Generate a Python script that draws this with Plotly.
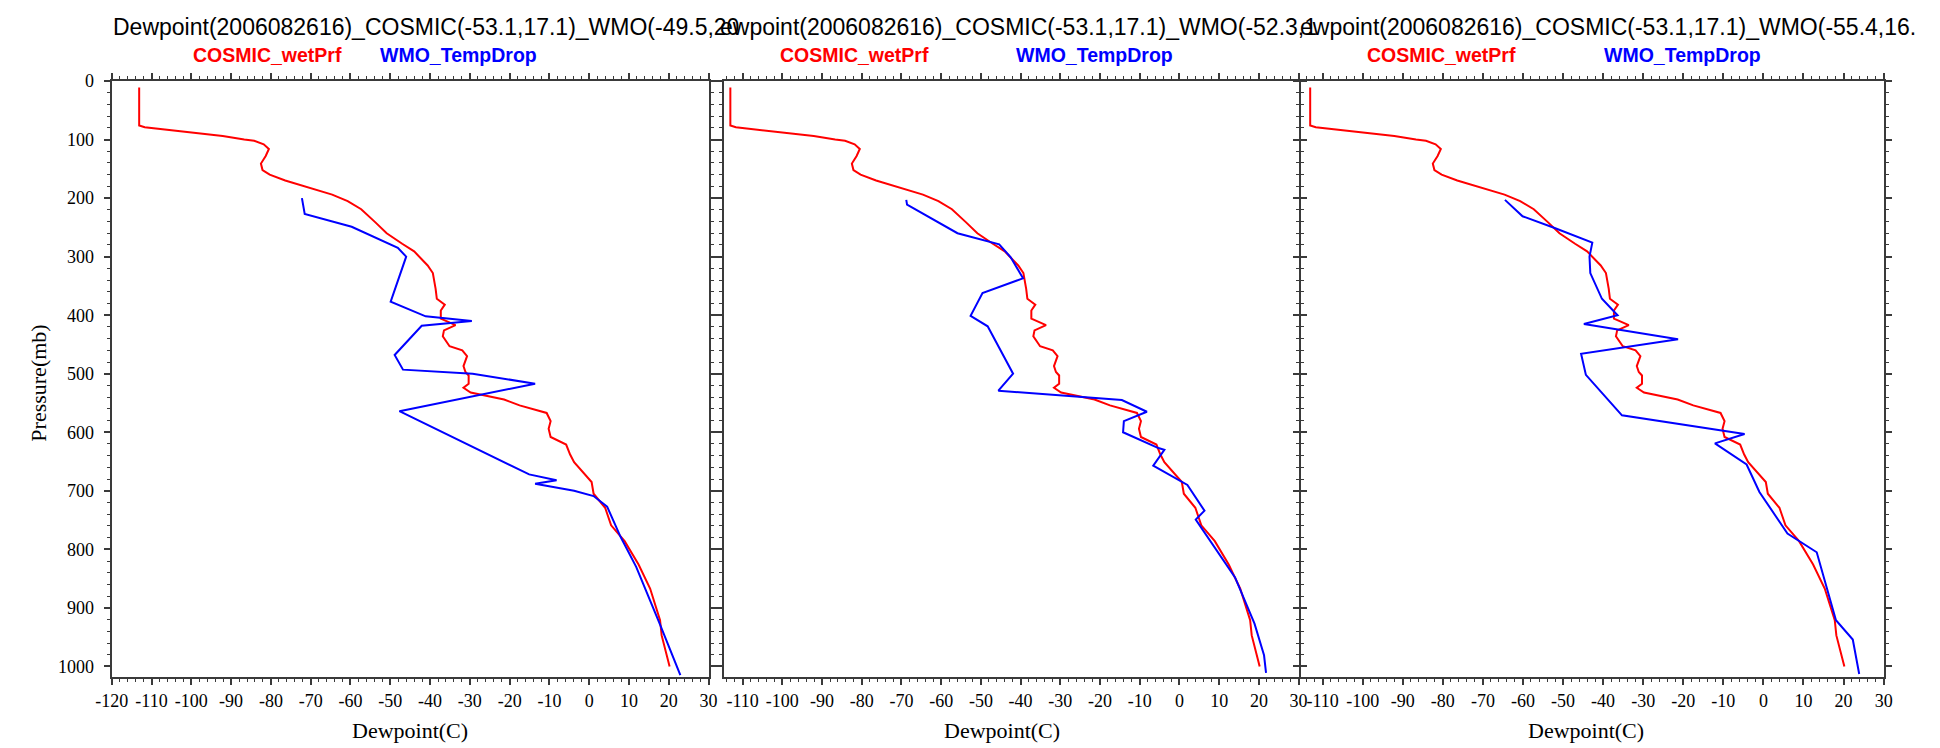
import plotly.graph_objects as go

# ---------------- data ----------------
cosmic_p = [11, 76, 79, 87, 94, 100, 102, 108, 116, 128, 141, 152, 160, 170, 182, 194, 205, 219, 241, 260,
            278, 291, 315, 328, 355, 372, 382, 392, 406, 417, 426, 436, 453, 460, 470, 487, 497, 503, 517, 524,
            532, 537, 544, 554, 563, 567, 581, 594, 608, 621, 638, 651, 685, 705, 729, 759, 786, 826, 867, 921,
            947, 1000]
cosmic_t = [-113.1, -113.1, -111.7, -101.9, -92.1, -86.7, -84.2, -81.8, -80.5, -81.3, -82.5, -82.1, -80.3, -76.4,
            -70.5, -64.6, -60.7, -57.3, -53.8, -50.9, -47.0, -44.0, -40.6, -39.3, -38.6, -38.3, -36.3, -37.3,
            -37.3, -33.6, -36.5, -36.8, -35.1, -31.9, -30.7, -31.6, -31.1, -30.3, -30.3, -31.6, -29.8, -26.3,
            -21.4, -17.5, -12.6, -10.7, -9.7, -10.2, -9.7, -5.8, -4.8, -3.8, 0.6, 1.1, 4.0, 5.5, 8.9, 12.4,
            15.3, 17.8, 18.2, 20.2]

wmo1_p = [200, 227, 249, 285, 300, 377, 402, 410, 418, 468, 493, 500, 517, 564, 672, 682, 688, 700, 709, 727,
          779, 830, 927, 1015]
wmo1_t = [-72.2, -71.5, -59.7, -48.1, -46.0, -49.9, -41.1, -29.5, -42.1, -48.9, -46.8, -29.3, -13.6, -47.7,
          -15.1, -8.2, -13.6, -3.8, 1.1, 4.5, 7.9, 11.8, 17.7, 22.9]

wmo2_p = [203, 211, 260, 279, 301, 337, 362, 401, 419, 500, 529, 545, 565, 581, 600, 627, 630, 657, 690, 734,
          749, 848, 927, 981, 1011]
wmo2_t = [-68.8, -68.6, -55.9, -45.4, -42.5, -39.4, -49.6, -52.6, -48.3, -41.9, -45.6, -14.5, -8.2, -14.0,
          -14.2, -5.3, -3.8, -6.6, 2.0, 6.3, 4.1, 14.0, 18.9, 21.3, 21.8]

wmo3_p = [203, 231, 251, 276, 300, 328, 372, 400, 415, 441, 466, 502, 571, 603, 619, 655, 702, 773, 805, 921,
          954, 1013]
wmo3_t = [-64.5, -60.1, -52.1, -42.7, -43.4, -43.2, -40.3, -36.4, -44.8, -21.3, -45.5, -44.3, -35.3, -4.7,
          -12.1, -4.2, -1.0, 6.0, 13.3, 18.1, 22.3, 23.9]

panel_titles = [
    "Dewpoint(2006082616)_COSMIC(-53.1,17.1)_WMO(-49.5,20",
    "ewpoint(2006082616)_COSMIC(-53.1,17.1)_WMO(-52.3,1",
    "ewpoint(2006082616)_COSMIC(-53.1,17.1)_WMO(-55.4,16.",
]
series_names = ["COSMIC_wetPrf", "WMO_TempDrop"]
x_title = "Dewpoint(C)"
y_title = "Pressure(mb)"

x_tick_vals = list(range(-120, 31, 10))
x_tick_text = [str(v) for v in x_tick_vals]
y_tick_vals = list(range(0, 1001, 100))
y_tick_text = [str(v) for v in y_tick_vals]

# ---------------- layout geometry (pixels) ----------------
W, H = 1940, 748
plot_top, plot_bottom = 72, 676
panels_px = [(96, 701, -120.0), (717, 1299, -114.6), (1301, 1892, -115.5)]
y_range = [1018, 0]

def fx(px):
    return px / W

def fy(py):
    return 1 - py / H

AX_COLOR = "#3a3a3a"
TICK_FONT = dict(family="Liberation Serif", size=18, color="black")

fig = go.Figure()
wmo = [(wmo1_p, wmo1_t), (wmo2_p, wmo2_t), (wmo3_p, wmo3_t)]
for i, (wp, wt) in enumerate(wmo):
    sfx = "" if i == 0 else str(i + 1)
    fig.add_trace(go.Scatter(x=cosmic_t, y=cosmic_p, mode="lines", name=series_names[0],
                             line=dict(color="#ff0000", width=2), xaxis="x" + sfx, yaxis="y" + sfx,
                             showlegend=False))
    fig.add_trace(go.Scatter(x=wt, y=wp, mode="lines", name=series_names[1],
                             line=dict(color="#0000ff", width=2), xaxis="x" + sfx, yaxis="y" + sfx,
                             showlegend=False))

layout = dict(width=W, height=H, autosize=False, margin=dict(l=0, r=0, t=0, b=0),
              paper_bgcolor="white", plot_bgcolor="white", showlegend=False)

for i, (x0, x1, xmin) in enumerate(panels_px):
    sfx = "" if i == 0 else str(i + 1)
    layout["xaxis" + sfx] = dict(
        domain=[fx(x0), fx(x1)], range=[xmin, 30], anchor="y" + sfx,
        showline=True, linecolor=AX_COLOR, linewidth=2, mirror="ticks",
        ticks="outside", ticklen=6, tickwidth=1.5, tickcolor=AX_COLOR,
        tickmode="array", tickvals=x_tick_vals, ticktext=x_tick_text, tickfont=TICK_FONT,
        minor=dict(ticks="outside", ticklen=3, tickwidth=1, tickcolor=AX_COLOR,
                   tickmode="linear", tick0=0, dtick=2),
        showgrid=False, zeroline=False, fixedrange=True,
    )
    layout["yaxis" + sfx] = dict(
        domain=[fy(plot_bottom), fy(plot_top)], range=y_range, anchor="x" + sfx,
        showline=True, linecolor=AX_COLOR, linewidth=2, mirror="ticks",
        ticks="outside", ticklen=6, tickwidth=1.5, tickcolor=AX_COLOR,
        tickmode="array", tickvals=y_tick_vals, ticktext=y_tick_text, tickfont=TICK_FONT,
        showticklabels=(i == 0), ticklabelstandoff=6,
        minor=dict(ticks="outside", ticklen=3, tickwidth=1, tickcolor=AX_COLOR,
                   tickmode="linear", tick0=0, dtick=20),
        showgrid=False, zeroline=False, fixedrange=True,
    )

# partially visible tick labels of a next (cropped) panel at the right edge
layout["yaxis4"] = dict(
    overlaying="y", anchor="free", position=1.0, side="left", range=y_range,
    tickmode="array", tickvals=y_tick_vals, ticktext=y_tick_text, tickfont=TICK_FONT,
    showline=False, ticks="", showgrid=False, zeroline=False, ticklabelstandoff=-8,
)

annotations = []
title_x = [95, 711, 1298]
legend_x = [(254, 447), (849, 1092), (1444, 1688)]
xlabel_x = [398, 998, 1590]
for i in range(3):
    annotations.append(dict(text=panel_titles[i], x=fx(title_x[i]), y=fy(17), xref="paper", yref="paper",
                            xanchor="left", yanchor="middle", showarrow=False,
                            font=dict(family="Liberation Sans", size=23, color="black")))
    annotations.append(dict(text="<b>" + series_names[0] + "</b>", x=fx(legend_x[i][0]), y=fy(46),
                            xref="paper", yref="paper", xanchor="center", yanchor="middle", showarrow=False,
                            font=dict(family="Liberation Sans", size=19.5, color="#ff0000")))
    annotations.append(dict(text="<b>" + series_names[1] + "</b>", x=fx(legend_x[i][1]), y=fy(46),
                            xref="paper", yref="paper", xanchor="center", yanchor="middle", showarrow=False,
                            font=dict(family="Liberation Sans", size=19.5, color="#0000ff")))
    annotations.append(dict(text=x_title, x=fx(xlabel_x[i]), y=fy(730), xref="paper", yref="paper",
                            xanchor="center", yanchor="middle", showarrow=False,
                            font=dict(family="Liberation Serif", size=22, color="black")))
annotations.append(dict(text=y_title, x=fx(22), y=fy(378), xref="paper", yref="paper", textangle=-90,
                        xanchor="center", yanchor="middle", showarrow=False,
                        font=dict(family="Liberation Serif", size=22, color="black")))
layout["annotations"] = annotations

layout["shapes"] = [dict(type="rect", xref="paper", yref="paper", x0=fx(1920), x1=1.0, y0=0, y1=fy(60),
                         fillcolor="white", line=dict(width=0), layer="above")]

fig.update_layout(**layout)
fig.write_html("out.html", config={"displayModeBar": False},
               post_script="document.body.style.margin='0';document.body.style.overflow='hidden';")
